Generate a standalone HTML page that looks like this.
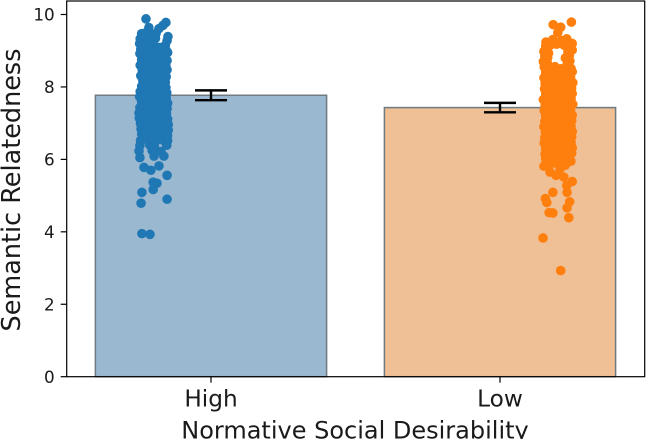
<!DOCTYPE html>
<html>
<head>
<meta charset="utf-8">
<title>Semantic Relatedness by Normative Social Desirability</title>
<style>
html,body{margin:0;padding:0;background:#fff;width:646px;height:439px;overflow:hidden}
svg{display:block}
text{font-family:"DejaVu Sans","Liberation Sans",sans-serif;fill:#1a1a1a}
</style>
</head>
<body>
<svg id="chart" xmlns="http://www.w3.org/2000/svg" width="646" height="439" viewBox="0 0 646 439"></svg>
<script>
const categories = ["High", "Low"];
const means = [7.77, 7.43];
const errors = [0.135, 0.13];
const yTicks = [0, 2, 4, 6, 8, 10];
const highJitter = [
-.225,-.156,-.166,-.18,-.215,-.149,-.152,
-.24,-.225,-.205,-.19,
-.245,-.23,-.21,-.192,
-.247,-.235,-.22,-.2,-.158,
-.243,-.228,-.206,-.19,-.178,-.155,
-.246,-.226,-.212,-.196,-.18,-.162,-.15,
-.24,-.23,-.207,-.186,-.17,-.152,
-.245,-.222,-.2,-.188,-.168,-.156,
-.238,-.225,-.208,-.184,-.166,-.152,
-.243,-.221,-.203,-.19,-.172,-.155,
-.236,-.228,-.21,-.182,-.168,-.158,
-.24,-.22,-.204,-.186,-.17,-.156,
-.245,-.226,-.206,-.188,-.166,-.153,
-.247,-.224,-.2,-.184,-.172,-.155,
-.24,-.219,-.208,-.19,-.168,-.15,
-.246,-.23,-.205,-.183,-.165,-.152,
-.249,-.222,-.21,-.19,-.17,-.154,
-.248,-.228,-.202,-.186,-.164,-.15,
-.244,-.225,-.207,-.188,-.17,-.148,
-.242,-.22,-.2,-.182,-.165,-.148,
-.24,-.224,-.206,-.19,-.168,-.15,
-.244,-.222,-.203,-.185,-.162,-.15,
-.246,-.212,-.196,-.153,
-.249,-.204,-.173,-.246,-.197,-.163,
-.232,-.208,-.18,-.152,-.2,-.187,-.2,-.239,-.242,-.152,-.239,-.211
];
const highValues = [
9.88,9.78,9.70,9.61,9.64,9.39,9.28,
9.47,9.50,9.45,9.48,
9.33,9.36,9.31,9.34,
9.20,9.16,9.22,9.18,9.15,
9.04,9.07,9.02,9.05,9.09,9.01,
8.92,8.88,8.94,8.90,8.93,8.87,8.95,
8.75,8.78,8.74,8.79,8.76,8.73,
8.60,8.63,8.58,8.64,8.61,8.59,
8.46,8.49,8.44,8.48,8.43,8.47,
8.31,8.34,8.29,8.35,8.32,8.28,
8.17,8.19,8.14,8.20,8.16,8.13,
8.02,8.05,8.00,8.04,8.01,7.98,
7.87,7.90,7.85,7.91,7.88,7.84,
7.73,7.75,7.70,7.76,7.72,7.69,
7.58,7.61,7.56,7.62,7.59,7.55,
7.43,7.46,7.41,7.47,7.44,7.40,
7.28,7.31,7.27,7.32,7.29,7.26,
7.14,7.17,7.12,7.18,7.15,7.11,
6.99,7.02,6.97,7.03,7.00,6.96,
6.84,6.87,6.82,6.88,6.85,6.81,
6.70,6.72,6.68,6.73,6.69,6.66,
6.52,6.55,6.50,6.54,6.51,6.52,
6.38,6.40,6.36,6.39,
6.23,6.25,6.22,6.05,6.09,6.09,
5.78,5.70,5.82,5.56,5.37,5.34,5.17,5.09,4.79,4.90,3.95,3.93
];
const lowJitter = [
.247,.184,.21,.2,.159,.183,.231,.25,.213,
.158,.175,.196,.222,.238,
.152,.168,.235,.25,
.155,.165,.24,.226,
.15,.242,.164,.232,
.153,.172,.19,.21,.228,.246,
.158,.176,.198,.216,.236,.25,
.152,.17,.192,.212,.23,.244,
.156,.178,.195,.218,.238,.252,
.154,.168,.19,.208,.226,.248,
.158,.174,.2,.22,.24,.25,
.15,.172,.194,.212,.232,.246,
.156,.176,.198,.216,.234,.252,
.153,.17,.19,.21,.228,.244,
.158,.18,.2,.214,.238,.25,
.155,.172,.192,.212,.23,.248,
.152,.176,.196,.218,.236,.246,
.157,.17,.19,.208,.226,.25,
.155,.178,.2,.22,.24,.248,
.153,.172,.194,.214,.232,.246,
.158,.176,.196,.21,.228,.25,
.156,.17,.19,.216,.236,.248,
.158,.178,.2,.22,.234,.245,
.16,.176,.192,.212,.226,.245,
.152,.173,.194,.208,.221,.25,.231,.232,.183,.157,.162,.241,.232,.17,.183,.238,.149,.21
];
const lowValues = [
9.79,9.72,9.65,9.50,9.24,9.31,9.33,9.20,9.28,
9.13,9.16,9.18,9.15,9.12,
8.98,8.93,8.97,9.02,
8.85,8.81,8.87,8.80,
8.70,8.72,8.66,8.62,
8.55,8.52,8.56,8.50,8.54,8.51,
8.40,8.37,8.41,8.36,8.39,8.42,
8.25,8.22,8.26,8.21,8.24,8.27,
8.10,8.07,8.11,8.06,8.09,8.12,
7.95,7.92,7.96,7.91,7.94,7.97,
7.80,7.77,7.81,7.76,7.79,7.82,
7.65,7.62,7.66,7.61,7.64,7.67,
7.50,7.47,7.51,7.46,7.49,7.52,
7.35,7.32,7.36,7.31,7.34,7.37,
7.20,7.17,7.21,7.16,7.19,7.22,
7.05,7.02,7.06,7.01,7.04,7.07,
6.90,6.87,6.91,6.86,6.89,6.92,
6.75,6.72,6.76,6.71,6.74,6.77,
6.60,6.57,6.61,6.56,6.59,6.62,
6.45,6.42,6.46,6.41,6.44,6.47,
6.30,6.27,6.31,6.26,6.29,6.32,
6.15,6.12,6.16,6.11,6.14,6.17,
6.03,6.00,6.04,5.98,6.02,5.95,
5.92,5.88,5.90,5.86,5.84,5.95,
5.81,5.65,5.56,5.74,5.51,5.39,5.28,5.09,5.09,4.92,4.81,4.83,4.66,4.53,4.52,4.39,3.83,2.93
];

const svg = document.getElementById('chart');
const NS = 'http://www.w3.org/2000/svg';
const plot = {left: 66.7, right: 644.7, top: 1, bottom: 376.7};
const xScale = v => 211 + v * 289;
const yScale = v => 376.7 - v * 36.22;

function make(tag, attrs, parent) {
  const el = document.createElementNS(NS, tag);
  for (const k in attrs) el.setAttribute(k, attrs[k]);
  (parent || svg).appendChild(el);
  return el;
}

const barFills = ['#9bb8d1', '#efbf95'];
const barEdge = '#6f7a7f';
const pointColors = ['#1f77b4', '#ff7f0e'];

categories.forEach((c, i) => {
  const bar = make('rect', {
    x: xScale(i - 0.4), y: yScale(means[i]),
    width: xScale(i + 0.4) - xScale(i - 0.4),
    height: yScale(0) - yScale(means[i]),
    fill: barFills[i], stroke: barEdge, 'stroke-width': 1.5
  });
  
  
});

const pointSets = [[highJitter, highValues], [lowJitter, lowValues]];
pointSets.forEach((set, i) => {
  const group = make('g', {fill: pointColors[i]});
  
  
  set[1].forEach((v, j) => {
    const pt = make('circle', {cx: xScale(i + set[0][j]), cy: yScale(v), r: 4.8}, group);
    
    
  });
});

categories.forEach((c, i) => {
  const group = make('g', {stroke: '#000', 'stroke-width': 2.4, fill: 'none'});
  
  
  const cx = xScale(i), hi = yScale(means[i] + errors[i]), lo = yScale(means[i] - errors[i]);
  make('line', {x1: cx, x2: cx, y1: hi, y2: lo}, group);
  make('line', {x1: cx - 16, x2: cx + 16, y1: hi, y2: hi}, group);
  make('line', {x1: cx - 16, x2: cx + 16, y1: lo, y2: lo}, group);
});

const frame = make('rect', {
  x: plot.left, y: plot.top, width: plot.right - plot.left, height: plot.bottom - plot.top,
  fill: 'none', stroke: '#000', 'stroke-width': 1.2
});



yTicks.forEach(t => {
  const y = yScale(t);
  const tick = make('line', {x1: plot.left - 6, x2: plot.left, y1: y, y2: y, stroke: '#000', 'stroke-width': 1.2});
  
  
  const lab = make('text', {x: plot.left - 12, y: y + 6.2, 'text-anchor': 'end', 'font-size': 16.8});
  lab.textContent = t;
  
  
});

categories.forEach((c, i) => {
  const x = xScale(i);
  const tick = make('line', {x1: x, x2: x, y1: plot.bottom, y2: plot.bottom + 6, stroke: '#000', 'stroke-width': 1.2});
  
  
  const lab = make('text', {x: x, y: 406.5, 'text-anchor': 'middle', 'font-size': 23.2});
  lab.textContent = c;
  
  
});

const xTitle = make('text', {x: 355, y: 438.5, 'text-anchor': 'middle', 'font-size': 24});
xTitle.textContent = 'Normative Social Desirability';



const yTitle = make('text', {x: 0, y: 0, 'text-anchor': 'middle', 'font-size': 25.5, transform: 'translate(20,190) rotate(-90)'});
yTitle.textContent = 'Semantic Relatedness';


</script>
</body>
</html>
